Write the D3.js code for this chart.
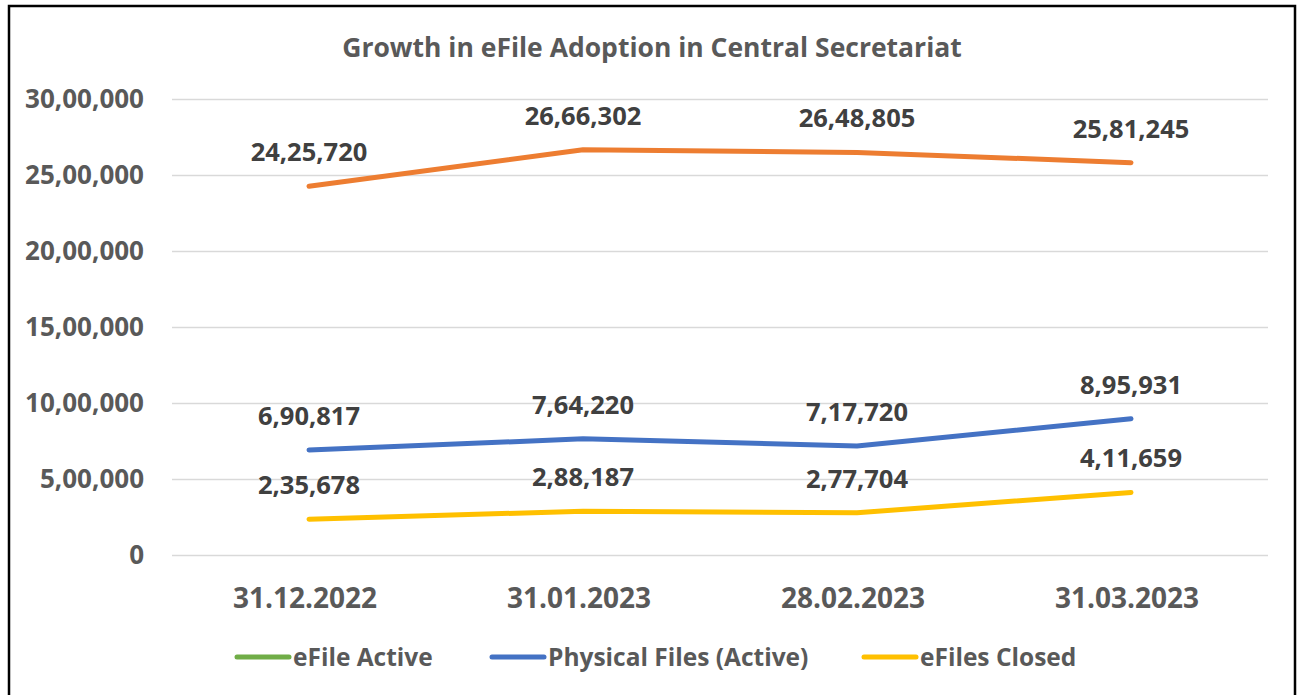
<html>
<head>
<script src="https://d3js.org/d3.v7.min.js"></script>
<style>
  body { margin: 0; background: #fff; }
  text { font-family: "Open Sans", sans-serif; font-weight: bold; }
  .gridlines .domain { display: none; }
  .gridlines line { stroke: #d9d9d9; stroke-width: 1.5; }
</style>
</head>
<body>
<svg id="chart" width="1304" height="695"></svg>
<script>
// data
const dates = ["31.12.2022", "31.01.2023", "28.02.2023", "31.03.2023"];
const physicalTotal = [2425720, 2666302, 2648805, 2581245];   // orange line (not in legend)
const physicalActive = [690817, 764220, 717720, 895931];
const efilesClosed = [235678, 288187, 277704, 411659];
const yTicks = [0, 500000, 1000000, 1500000, 2000000, 2500000, 3000000];
const legendNames = ["eFile Active", "Physical Files (Active)", "eFiles Closed"];

const series = [
  { name: "orange", values: physicalTotal, color: "#ED7D31" },
  { name: "Physical Files (Active)", values: physicalActive, color: "#4472C4" },
  { name: "eFiles Closed", values: efilesClosed, color: "#FFC000" }
];
const legendColors = ["#70AD47", "#4472C4", "#FFC000"];

const svg = d3.select("#chart");
const margin = { top: 99, left: 172, right: 36, bottom: 140 };
const chartWidth = 1304 - margin.left - margin.right;
const chartHeight = 695 - margin.top - margin.bottom;

// frame
svg.append("path")
   .attr("d", "M9,695 V6 H1295 V695")
   .attr("fill", "none").attr("stroke", "#000").attr("stroke-width", 2.5);

svg.append("text")
   .attr("x", 652).attr("y", 57)
   .attr("text-anchor", "middle")
   .attr("fill", "#595959").attr("font-size", 26.5)
   .text("Growth in eFile Adoption in Central Secretariat");

const graph = svg.append("g").attr("transform", `translate(${margin.left},${margin.top})`);

const xScale = d3.scaleBand().domain(dates).range([0, chartWidth]);
const yScale = d3.scaleLinear().domain([0, 3000000]).range([chartHeight, 0]);

// indian style grouping: 30,00,000
const indian = v => v.toLocaleString("en-IN");

graph.append("g").attr("class", "gridlines")
     .call(d3.axisLeft(yScale).tickValues(yTicks).tickSize(-chartWidth).tickFormat(""));

graph.selectAll(".ylab").data(yTicks).join("text")
     .attr("class", "ylab")
     .attr("x", -28).attr("y", d => yScale(d))
     .attr("dy", "0.36em").attr("text-anchor", "end")
     .attr("fill", "#595959").attr("font-size", 26)
     .text(indian);

graph.selectAll(".xlab").data(dates).join("text")
     .attr("class", "xlab")
     .attr("x", d => xScale(d) + xScale.bandwidth() / 2 - 4)
     .attr("y", chartHeight + 53)
     .attr("text-anchor", "middle")
     .attr("fill", "#595959").attr("font-size", 28)
     .text(d => d);

const lineGen = d3.line()
    .x((d, i) => xScale(dates[i]) + xScale.bandwidth() / 2)
    .y(d => yScale(d));

const gTags = graph.selectAll(".line-group").data(series).join("g").attr("class", "line-group");

gTags.append("path")
     .attr("d", d => lineGen(d.values))
     .attr("fill", "none")
     .attr("stroke", d => d.color)
     .attr("stroke-width", 5)
     .attr("stroke-linecap", "round")
     .attr("stroke-linejoin", "round");

gTags.selectAll(".dlab").data(d => d.values).join("text")
     .attr("class", "dlab")
     .attr("x", (d, i) => xScale(dates[i]) + xScale.bandwidth() / 2)
     .attr("y", d => yScale(d) - 25)
     .attr("text-anchor", "middle")
     .attr("fill", "#404040").attr("font-size", 25.5)
     .text(indian);

// legend
const legendX = [235, 490, 862];
const legend = svg.selectAll(".legend").data(legendNames).join("g")
     .attr("class", "legend")
     .attr("transform", (d, i) => `translate(${legendX[i]},657)`);
legend.append("line")
     .attr("x1", 2).attr("x2", 54)
     .attr("stroke", (d, i) => legendColors[i])
     .attr("stroke-width", 5).attr("stroke-linecap", "round");
legend.append("text")
     .attr("x", 58).attr("dy", "0.36em")
     .attr("fill", "#595959").attr("font-size", 24.5)
     .text(d => d);
</script>
</body>
</html>
